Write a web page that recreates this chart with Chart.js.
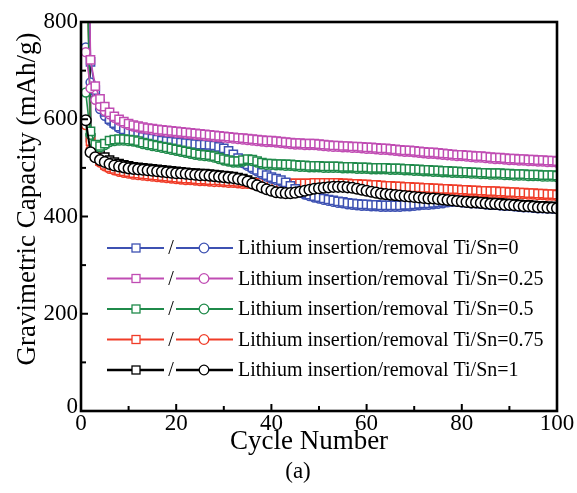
<!DOCTYPE html>
<html>
<head>
<meta charset="utf-8">
<script src="https://cdn.jsdelivr.net/npm/chart.js@4.4.1/dist/chart.umd.min.js"></script>
<style>
  html, body { margin: 0; padding: 0; background: #fff; }
  canvas { display: block; }
</style>
</head>
<body>
<canvas id="chart" width="577" height="493"></canvas>
<script>
// Cycle index (x values)
const cycles = Array.from({ length: 100 }, (_, i) => i + 1);

// Ti/Sn = 0 : insertion (squares) and removal (circles), mAh/g
const blueInsertion = [1180,718,660,632,615,600,592,585,579,574,
  570,567,564,562,560,558,556,555,554,553,
  552,551,550,549,548,548,547,546,543,540,
  535,528,520,513,507,501,496,490,485,481,
  478,475,470,463,457,452,448,445,442,440,
  437,435,433,431,430,428,427,426,425,425,
  424,424,423,423,423,423,423,424,424,425,
  426,427,427,428,429,430,432,433,433,432,
  429,428,428,427,426,425,425,424,423,423,
  422,421,420,420,419,418,418,417,417,416];
const blueRemoval = [748,676,642,621,607,597,589,582,576,571,
  567,564,561,559,557,555,553,552,551,550,
  549,548,547,546,545,545,544,543,540,537,
  532,525,517,510,504,498,493,487,482,478,
  475,472,467,460,454,449,445,442,439,437,
  434,432,430,428,427,425,424,423,422,422,
  421,421,420,420,420,420,420,421,421,422,
  423,424,424,425,426,427,429,430,430,429,
  428,427,427,426,425,424,424,423,422,422,
  421,420,419,419,418,417,417,416,416,415];

// Ti/Sn = 0.25
const magentaInsertion = [1350,722,668,642,626,614,606,600,595,591,
  588,586,584,582,581,579,578,577,576,575,
  574,573,572,571,570,569,568,567,566,565,
  564,563,562,561,560,559,558,557,556,556,
  555,554,553,552,551,551,550,550,550,549,
  548,547,546,546,545,545,544,544,543,542,
  542,541,540,540,539,538,537,536,536,535,
  534,533,532,532,531,530,529,528,527,527,
  526,525,524,524,523,522,521,521,520,519,
  519,518,518,517,517,516,516,515,515,514];
const magentaRemoval = [738,664,640,627,617,610,603,597,592,588,
  585,583,581,579,578,576,575,574,573,572,
  571,570,569,568,567,566,565,564,563,562,
  561,560,559,558,557,556,555,554,553,553,
  552,551,550,549,548,548,547,547,547,546,
  545,544,543,543,542,542,541,541,540,539,
  539,538,537,537,536,535,534,533,533,532,
  531,530,529,529,528,527,526,525,524,524,
  523,522,521,521,520,519,518,518,517,516,
  516,515,515,514,514,513,513,512,512,511];

// Ti/Sn = 0.5
const greenInsertion = [1020,575,548,545,550,556,558,559,559,558,
  557,555,552,550,548,546,544,542,540,538,
  536,534,532,530,528,527,526,524,521,518,
  516,514,514,516,518,517,514,511,509,509,
  508,508,507,507,506,505,505,504,504,504,
  503,503,503,503,502,502,502,501,501,501,
  500,500,500,500,499,499,499,498,498,497,
  497,496,496,495,495,494,494,493,493,492,
  492,491,491,490,490,489,489,489,488,488,
  487,487,487,486,486,486,485,485,485,484];
const greenRemoval = [655,568,544,542,547,553,555,556,556,555,
  554,552,549,547,545,543,541,539,537,535,
  533,531,529,527,525,524,523,521,518,515,
  513,511,511,513,515,514,511,508,506,506,
  505,505,504,504,503,502,502,501,501,501,
  500,500,500,500,499,499,499,498,498,498,
  497,497,497,497,496,496,496,495,495,494,
  494,493,493,492,492,491,491,490,490,489,
  489,488,488,487,487,486,486,486,485,485,
  484,484,484,483,483,483,482,482,482,481];

// Ti/Sn = 0.75
const redInsertion = [1100,555,528,514,506,501,498,495,493,491,
  489,488,487,486,485,484,483,482,481,480,
  479,478,478,477,476,476,475,474,474,473,
  472,472,471,470,470,469,469,469,468,468,
  468,468,468,468,468,468,468,468,469,469,
  469,469,469,469,468,468,467,467,466,466,
  465,465,464,463,463,462,462,461,461,460,
  460,459,459,458,458,457,457,456,456,455,
  455,454,454,453,453,452,452,451,451,450,
  450,449,449,448,448,447,447,446,446,445];
const redRemoval = [588,538,521,511,503,498,495,492,490,488,
  486,485,484,483,482,481,480,479,478,477,
  476,475,475,474,473,473,472,471,471,470,
  469,469,468,467,467,466,466,466,465,465,
  465,465,465,465,465,465,465,465,466,466,
  466,466,466,466,465,465,464,464,463,463,
  462,462,461,460,460,459,459,458,458,457,
  457,456,456,455,455,454,454,453,453,452,
  452,451,451,450,450,449,449,448,448,447,
  447,446,446,445,445,444,444,443,443,442];

// Ti/Sn = 1
const blackInsertion = [1300,562,542,530,522,516,512,509,506,504,
  502,501,500,499,498,497,496,495,494,493,
  492,491,490,489,488,488,487,486,485,484,
  483,482,480,478,475,471,467,463,459,456,
  453,452,451,451,452,454,456,458,460,461,
  462,463,464,464,464,463,462,460,458,456,
  454,452,450,449,448,447,446,445,444,443,
  442,441,440,440,439,438,437,436,435,434,
  433,432,432,431,430,429,429,428,427,427,
  426,425,424,424,423,422,422,421,421,420];
const blackRemoval = [598,532,522,516,512,508,505,503,501,499,
  498,497,496,495,494,493,492,491,490,489,
  489,488,487,486,485,485,484,483,482,481,
  480,479,477,475,472,468,464,460,456,453,
  450,449,448,448,449,451,453,455,457,458,
  459,460,461,461,461,460,459,457,455,453,
  451,449,447,446,445,444,443,442,441,440,
  439,438,437,437,436,435,434,433,432,431,
  430,429,429,428,427,426,426,425,424,424,
  423,422,421,421,420,419,419,418,418,417];

const seriesLabels = [
  'Lithium insertion/removal Ti/Sn=0',
  'Lithium insertion/removal Ti/Sn=0.25',
  'Lithium insertion/removal Ti/Sn=0.5',
  'Lithium insertion/removal Ti/Sn=0.75',
  'Lithium insertion/removal Ti/Sn=1'
];
const seriesColors = ['#3d51b2', '#c04cb3', '#1f8a4a', '#f03c28', '#000000'];

const xTickValues = [0, 20, 40, 60, 80, 100];
const xTickLabels = ['0', '20', '40', '60', '80', '100'];
const yTickValues = [0, 200, 400, 600, 800];
const yTickLabels = ['0', '200', '400', '600', '800'];

const xTitle = 'Cycle Number';
const yTitle = 'Gravimetric Capacity (mAh/g)';
const panelTag = '(a)';

const SERIF = '"Liberation Serif", "Times New Roman", serif';

const groups = [
  { ins: blueInsertion, rem: blueRemoval, sqOrder: 5, ciOrder: 6 },
  { ins: magentaInsertion, rem: magentaRemoval, sqOrder: 1, ciOrder: 2 },
  { ins: greenInsertion, rem: greenRemoval, sqOrder: 3, ciOrder: 4 },
  { ins: redInsertion, rem: redRemoval, sqOrder: 7, ciOrder: 8 },
  { ins: blackInsertion, rem: blackRemoval, sqOrder: 20, ciOrder: 0 }
];

const toPoints = arr => arr.map((v, i) => ({ x: cycles[i], y: v }));

const datasets = [];
groups.forEach((g, k) => {
  const color = seriesColors[k];
  const isBlack = k === 4;
  datasets.push({
    label: seriesLabels[k] + ' (insertion)',
    data: toPoints(g.ins),
    order: g.sqOrder,
    borderColor: color,
    borderWidth: isBlack ? 2.5 : 1.6,
    pointStyle: 'rect',
    pointRadius: 5.8,
    pointBorderWidth: 1.5,
    pointBorderColor: color,
    pointBackgroundColor: '#ffffff',
    showLine: true,
    tension: 0
  });
  datasets.push({
    label: seriesLabels[k] + ' (removal)',
    data: toPoints(g.rem),
    order: g.ciOrder,
    borderColor: color,
    borderWidth: isBlack ? 2 : 1.6,
    pointStyle: 'circle',
    pointRadius: isBlack ? 5.3 : 4.4,
    pointBorderWidth: 1.5,
    pointBorderColor: color,
    pointBackgroundColor: '#ffffff',
    showLine: true,
    tension: 0
  });
});

// Boxed axes with inward ticks, tick labels, titles and the custom legend
const axesAndLegend = {
  id: 'axesAndLegend',
  afterDraw(chart) {
    const { ctx, chartArea: a, scales: { x, y } } = chart;
    ctx.save();

    const seg = (x1, y1, x2, y2) => {
      ctx.beginPath(); ctx.moveTo(x1, y1); ctx.lineTo(x2, y2); ctx.stroke();
    };

    // frame
    ctx.strokeStyle = '#000';
    ctx.lineWidth = 2.6;
    ctx.strokeRect(a.left, a.top, a.right - a.left, a.bottom - a.top);

    // inward ticks
    ctx.lineWidth = 2;
    for (let v = 10; v < 100; v += 10) {
      const px = x.getPixelForValue(v);
      seg(px, a.bottom, px, a.bottom - (v % 20 === 0 ? 7 : 5));
    }
    for (let v = 100; v < 800; v += 100) {
      const py = y.getPixelForValue(v);
      seg(a.left, py, a.left + (v % 200 === 0 ? 7 : 5), py);
    }

    // tick labels
    ctx.fillStyle = '#000';
    ctx.font = '23px ' + SERIF;
    ctx.textAlign = 'center';
    ctx.textBaseline = 'top';
    xTickValues.forEach((v, i) => {
      ctx.fillText(xTickLabels[i], x.getPixelForValue(v), a.bottom + 1);
    });
    ctx.textAlign = 'right';
    ctx.textBaseline = 'middle';
    yTickValues.forEach((v, i) => {
      ctx.fillText(yTickLabels[i], a.left - 3, y.getPixelForValue(v) - (v === 0 ? 4 : 0));
    });

    // axis titles
    ctx.font = '27px ' + SERIF;
    ctx.textAlign = 'center';
    ctx.textBaseline = 'middle';
    ctx.fillText(xTitle, 309, 442);
    ctx.save();
    ctx.translate(28, 199);
    ctx.rotate(-Math.PI / 2);
    ctx.fillText(yTitle, 0, 0);
    ctx.restore();

    ctx.font = '23px ' + SERIF;
    ctx.fillText(panelTag, 298, 472);

    // legend: line-square-line / line-circle-line  label
    seriesLabels.forEach((label, i) => {
      const ry = 248 + i * 30.5;
      const c = seriesColors[i];
      ctx.strokeStyle = c;
      ctx.lineWidth = i === 4 ? 2.6 : 2.2;
      seg(107, ry, 164, ry);
      seg(176, ry, 233, ry);
      ctx.lineWidth = 1.3;
      ctx.fillStyle = '#fff';
      ctx.fillRect(132, ry - 4, 8, 8);
      ctx.strokeRect(132, ry - 4, 8, 8);
      ctx.beginPath();
      ctx.arc(204, ry, 4.8, 0, Math.PI * 2);
      ctx.fill();
      ctx.stroke();
      ctx.fillStyle = '#000';
      ctx.font = '20px ' + SERIF;
      ctx.textAlign = 'center';
      ctx.textBaseline = 'middle';
      ctx.fillText('/', 171, ry + 1);
      ctx.textAlign = 'left';
      ctx.fillText(label, 238, ry + 1);
    });

    ctx.restore();
  }
};

new Chart(document.getElementById('chart'), {
  type: 'line',
  data: { datasets },
  options: {
    responsive: false,
    animation: false,
    devicePixelRatio: 1,
    events: [],
    layout: { padding: { left: 81, right: 20, top: 22, bottom: 82 } },
    plugins: { legend: { display: false }, tooltip: { enabled: false } },
    scales: {
      x: { type: 'linear', min: 0, max: 100, display: false },
      y: { type: 'linear', min: 0, max: 800, display: false }
    }
  },
  plugins: [axesAndLegend]
});
</script>
</body>
</html>
